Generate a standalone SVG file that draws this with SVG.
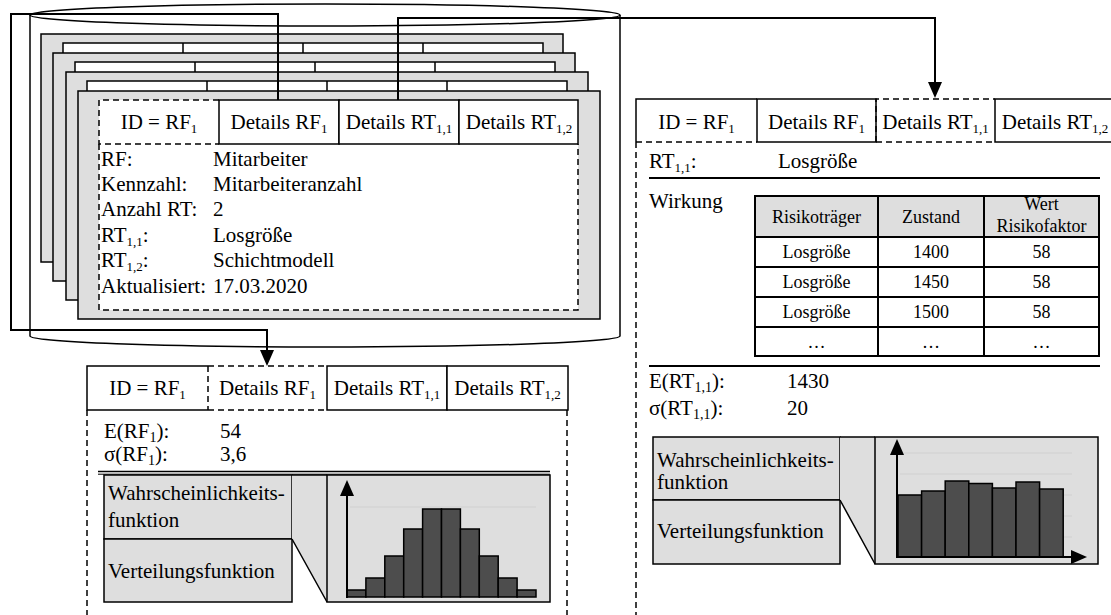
<svg xmlns="http://www.w3.org/2000/svg" width="1111" height="615" viewBox="0 0 1111 615">
<style>
text{font-family:'Times New Roman','Liberation Serif',Tinos,serif;font-size:21px;fill:#000}
.t18{font-size:18px}
.mid{text-anchor:middle}
.sub{font-size:13px}
.card{fill:#dedede;stroke:#000;stroke-width:1.5}
.tab{fill:#fff;stroke:#000;stroke-width:1.5}
.ln{fill:none;stroke:#000;stroke-width:1.5}
.dash{fill:none;stroke:#000;stroke-width:1.5;stroke-dasharray:6,4}
.conn{fill:none;stroke:#000;stroke-width:2}
.gray{fill:#dedede;stroke:#000;stroke-width:1.5}
.bar{fill:#4d4d4d;stroke:#000;stroke-width:1.5}
.grid{stroke:#d0d0d0;stroke-width:1}
.axis{fill:none;stroke:#000;stroke-width:2}
</style>
<defs>
<marker id="ah" markerUnits="userSpaceOnUse" markerWidth="16" markerHeight="14" refX="12" refY="7" orient="auto"><path d="M0,0 L16,7 L0,14 z" fill="#000"/></marker>
</defs>

<g id="database">
<path class="ln" d="M30,15 V336 A295,11 0 0 0 620,336 V15"/>
<ellipse cx="325" cy="15" rx="295" ry="11" class="ln" fill="#fff"/>
</g>

<g id="card-stack-back">
<rect class="card" x="41" y="34" width="522" height="228"/>
<rect class="tab" x="63" y="43" width="480" height="44"/>
<path class="ln" d="M183,43 V87 M303,43 V87 M423,43 V87"/>
<rect class="card" x="53" y="53" width="522" height="228"/>
<rect class="tab" x="75" y="62" width="480" height="44"/>
<path class="ln" d="M195,62 V106 M315,62 V106 M435,62 V106"/>
<rect class="card" x="66" y="72" width="522" height="228"/>
<rect class="tab" x="87" y="81" width="480" height="44"/>
<path class="ln" d="M207,81 V125 M327,81 V125 M447,81 V125"/>
</g>

<g id="card-front">
<rect class="card" x="78" y="91" width="522" height="228"/>
<rect x="99" y="100" width="479" height="210" fill="#fff"/>
<path class="dash" d="M219,100 H99 V144 H219"/>
<rect class="tab" x="219" y="100" width="120" height="44"/>
<rect class="tab" x="339" y="100" width="120" height="44"/>
<rect class="tab" x="459" y="100" width="119" height="44"/>
<path class="dash" d="M99,144 V310 H578 V144"/>
<text class="mid" x="159" y="129">ID = RF<tspan class="sub" dy="4">1</tspan></text>
<text class="mid" x="279" y="129">Details RF<tspan class="sub" dy="4">1</tspan></text>
<text class="mid" x="399" y="129">Details RT<tspan class="sub" dy="4">1,1</tspan></text>
<text class="mid" x="519" y="129">Details RT<tspan class="sub" dy="4">1,2</tspan></text>
<text x="101" y="166">RF:</text><text x="213" y="166">Mitarbeiter</text>
<text x="101" y="191">Kennzahl:</text><text x="213" y="191">Mitarbeiteranzahl</text>
<text x="101" y="216">Anzahl RT:</text><text x="213" y="216">2</text>
<text x="101" y="242">RT<tspan class="sub" dy="4">1,1</tspan><tspan dy="-4">:</tspan></text><text x="213" y="242">Losgröße</text>
<text x="101" y="267">RT<tspan class="sub" dy="4">1,2</tspan><tspan dy="-4">:</tspan></text><text x="213" y="267">Schichtmodell</text>
<text x="101" y="293">Aktualisiert:</text><text x="213" y="293">17.03.2020</text>
</g>

<g id="card-rf-details">
<path class="ln" d="M208,366 H87 V410 H208"/>
<path class="dash" d="M208,366 V410 M208,366 H327 M208,410 H327"/>
<rect class="tab" x="327" y="366" width="120" height="44"/>
<rect class="tab" x="447" y="366" width="121" height="44"/>
<path class="dash" d="M87,410 V615 M567,410 V615"/>
<text class="mid" x="147.5" y="395">ID = RF<tspan class="sub" dy="4">1</tspan></text>
<text class="mid" x="267.5" y="395">Details RF<tspan class="sub" dy="4">1</tspan></text>
<text class="mid" x="387" y="395">Details RT<tspan class="sub" dy="4">1,1</tspan></text>
<text class="mid" x="507.5" y="395">Details RT<tspan class="sub" dy="4">1,2</tspan></text>
<text x="104" y="438">E(RF<tspan font-size="14" dy="4">1</tspan><tspan dy="-4">):</tspan></text><text x="220" y="438">54</text>
<text x="104" y="461">σ(RF<tspan font-size="14" dy="4">1</tspan><tspan dy="-4">):</tspan></text><text x="220" y="461">3,6</text>
<path d="M98,471.5 H550" stroke="#000" stroke-width="1.6"/>
<path d="M98,474.2 H550" stroke="#000" stroke-width="1"/>
<rect class="gray" x="104" y="475" width="188" height="64"/>
<rect class="gray" x="104" y="539" width="188" height="63"/>
<polygon points="292,475 327,475 327,602 292,539" fill="#dedede"/>
<path class="ln" d="M292,475 H327 M292,539 L327,602"/>
<rect class="gray" x="327" y="475" width="223" height="127"/>
<text x="108" y="500">Wahrscheinlichkeits-</text>
<text x="108" y="527">funktion</text>
<text x="108" y="578">Verteilungsfunktion</text>
<path class="grid" d="M350,507 H536"/>
<rect class="bar" x="347" y="590" width="18.9" height="7"/>
<rect class="bar" x="365.9" y="578" width="18.9" height="19"/>
<rect class="bar" x="384.8" y="556" width="18.9" height="41"/>
<rect class="bar" x="403.7" y="529" width="18.9" height="68"/>
<rect class="bar" x="422.6" y="509" width="18.9" height="88"/>
<rect class="bar" x="441.5" y="509" width="18.9" height="88"/>
<rect class="bar" x="460.4" y="529" width="18.9" height="68"/>
<rect class="bar" x="479.3" y="556" width="18.9" height="41"/>
<rect class="bar" x="498.2" y="578" width="18.9" height="19"/>
<rect class="bar" x="517.1" y="590" width="18.9" height="7"/>
<path class="axis" d="M347,598 V484" marker-end="url(#ah)"/>
</g>

<g id="card-rt-details">
<path class="ln" d="M757,99 H636 V142"/>
<path class="dash" d="M636,142 H757"/>
<rect class="tab" x="757" y="99" width="119" height="43"/>
<path class="dash" d="M876,142 V99 H995 M876,142 H995"/>
<rect class="tab" x="995" y="99" width="121" height="43"/>
<path class="dash" d="M636,142 V615"/>
<text class="mid" x="696.5" y="128.5">ID = RF<tspan class="sub" dy="4">1</tspan></text>
<text class="mid" x="816.5" y="128.5">Details RF<tspan class="sub" dy="4">1</tspan></text>
<text class="mid" x="935.5" y="128.5">Details RT<tspan class="sub" dy="4">1,1</tspan></text>
<text class="mid" x="1055" y="128.5">Details RT<tspan class="sub" dy="4">1,2</tspan></text>
<text x="649" y="168">RT<tspan class="sub" dy="4">1,1</tspan><tspan dy="-4">:</tspan></text><text x="778" y="168">Losgröße</text>
<path d="M649,178 H1100" stroke="#000" stroke-width="2"/>
<text x="649" y="208">Wirkung</text>
<g id="impact-table">
<rect x="755" y="196" width="344" height="41" fill="#dedede" stroke="#000" stroke-width="2"/>
<rect x="755" y="237" width="344" height="119" fill="#fff" stroke="#000" stroke-width="2"/>
<path d="M878,196 V356 M984,196 V356 M755,267 H1099 M755,297 H1099 M755,327 H1099" stroke="#000" stroke-width="2"/>
<text class="t18 mid" x="816.5" y="223">Risikoträger</text>
<text class="t18 mid" x="931" y="223">Zustand</text>
<text class="t18 mid" x="1041.5" y="210">Wert</text>
<text class="t18 mid" x="1041.5" y="232">Risikofaktor</text>
<text class="t18 mid" x="816.5" y="258">Losgröße</text><text class="t18 mid" x="931" y="258">1400</text><text class="t18 mid" x="1041.5" y="258">58</text>
<text class="t18 mid" x="816.5" y="288">Losgröße</text><text class="t18 mid" x="931" y="288">1450</text><text class="t18 mid" x="1041.5" y="288">58</text>
<text class="t18 mid" x="816.5" y="318">Losgröße</text><text class="t18 mid" x="931" y="318">1500</text><text class="t18 mid" x="1041.5" y="318">58</text>
<text class="t18 mid" x="816.5" y="348">…</text><text class="t18 mid" x="931" y="348">…</text><text class="t18 mid" x="1041.5" y="348">…</text>
</g>
<path d="M649,366 H1100" stroke="#000" stroke-width="2"/>
<text x="649" y="388">E(RT<tspan font-size="14" dy="4">1,1</tspan><tspan dy="-4">):</tspan></text><text x="787" y="388">1430</text>
<text x="649" y="415">σ(RT<tspan font-size="14" dy="4">1,1</tspan><tspan dy="-4">):</tspan></text><text x="787" y="415">20</text>
<rect class="gray" x="653" y="437" width="187" height="63"/>
<rect class="gray" x="653" y="500" width="187" height="64"/>
<polygon points="840,437 875,437 875,564 840,500" fill="#dedede"/>
<path class="ln" d="M840,437 H875 M840,500 L875,564"/>
<rect class="gray" x="875" y="437" width="223" height="127"/>
<text x="657" y="467">Wahrscheinlichkeits-</text>
<text x="657" y="489">funktion</text>
<text x="657" y="538">Verteilungsfunktion</text>
<path class="grid" d="M900,453 H1072 M900,474 H1072 M900,495 H1072 M900,516 H1072 M900,537 H1072"/>
<rect class="bar" x="898" y="495" width="23.6" height="62"/>
<rect class="bar" x="921.6" y="491" width="23.6" height="66"/>
<rect class="bar" x="945.2" y="481" width="23.6" height="76"/>
<rect class="bar" x="968.8" y="483.5" width="23.6" height="73.5"/>
<rect class="bar" x="992.4" y="488" width="23.6" height="69"/>
<rect class="bar" x="1016" y="482" width="23.6" height="75"/>
<rect class="bar" x="1039.6" y="489" width="23.6" height="68"/>
<path class="axis" d="M897,558 V443" marker-end="url(#ah)"/>
<path class="axis" d="M896,557 H1083" marker-end="url(#ah)"/>
</g>

<g id="connectors">
<path class="conn" d="M278,100 V14 H11 V330 H267 V362" marker-end="url(#ah)"/>
<path class="conn" d="M398,100 V18 H935 V94" marker-end="url(#ah)"/>
</g>
</svg>
